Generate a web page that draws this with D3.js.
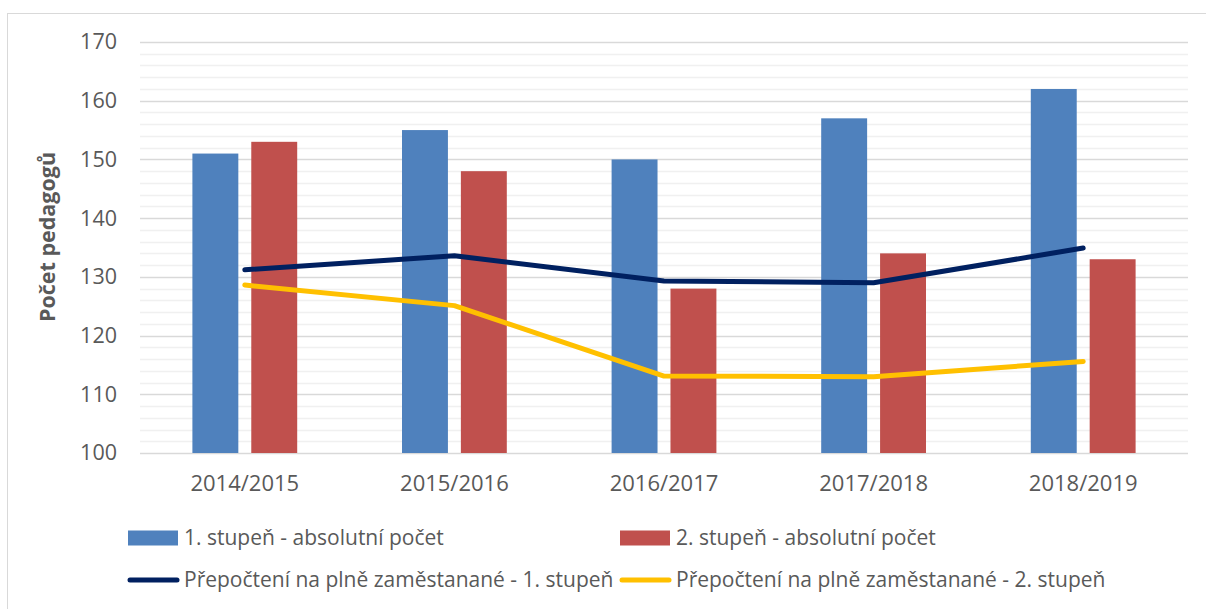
<!DOCTYPE html>
<html>
<head>
<meta charset="utf-8">
<script src="https://cdn.jsdelivr.net/npm/d3@7"></script>
<style>
  body { margin: 0; background: #fff; }
  svg { display: block; font-family: "Open Sans", sans-serif; }
</style>
</head>
<body>
<div id="chart"></div>
<script>
// chart data
var years = ['2014/2015', '2015/2016', '2016/2017', '2017/2018', '2018/2019'];
var abs1 = [151, 155, 150, 157, 162];
var abs2 = [153, 148, 128, 134, 133];
var fte1 = [131.2, 133.6, 129.3, 129.0, 134.9];
var fte2 = [128.6, 125.1, 113.1, 113.0, 115.6];
var yTicks = [100, 110, 120, 130, 140, 150, 160, 170];

var barSeries = [
  { name: '1. stupeň - absolutní počet', values: abs1, color: '#4F81BD' },
  { name: '2. stupeň - absolutní počet', values: abs2, color: '#C0504D' }
];
var lineSeries = [
  { name: 'Přepočtení na plně zaměstanané - 1. stupeň', values: fte1, color: '#002060' },
  { name: 'Přepočtení na plně zaměstanané - 2. stupeň', values: fte2, color: '#FFC000' }
];

var w = 1206;
var h = 609;

var svg = d3.select('#chart').append('svg')
  .attr('width', w)
  .attr('height', h);

// outer chart border (only top/left visible in the frame)
svg.append('rect')
  .attr('x', 7.5).attr('y', 13.5)
  .attr('width', 1220).attr('height', 620)
  .attr('fill', 'none')
  .attr('stroke', '#d9d9d9');

var x = d3.scaleBand()
  .domain(years)
  .range([140, 1188])
  .paddingInner(0.5)
  .paddingOuter(0.25);

var xInner = d3.scaleBand()
  .domain([0, 1])
  .range([0, x.bandwidth()])
  .paddingInner(0.22);

var y = d3.scaleLinear()
  .domain([100, 170])
  .range([453, 42]);

// minor gridlines every 2
svg.append('g')
  .selectAll('line')
  .data(d3.range(102, 170, 2).filter(function(v) { return v % 10 !== 0; }))
  .enter().append('line')
  .attr('x1', 140).attr('x2', 1188)
  .attr('y1', function(d) { return Math.round(y(d)) + 0.5; })
  .attr('y2', function(d) { return Math.round(y(d)) + 0.5; })
  .attr('stroke', '#f0f0f0')
  .attr('stroke-width', 1.3);

// major gridlines
svg.append('g')
  .selectAll('line')
  .data(yTicks)
  .enter().append('line')
  .attr('x1', 140).attr('x2', 1188)
  .attr('y1', function(d) { return Math.round(y(d)) + 0.5; })
  .attr('y2', function(d) { return Math.round(y(d)) + 0.5; })
  .attr('stroke', '#d9d9d9')
  .attr('stroke-width', 1.4);

// y axis labels
var yAxis = svg.append('g')
  .attr('transform', 'translate(117,0)')
  .call(d3.axisLeft(y).tickValues(yTicks).tickSize(0).tickPadding(0).tickFormat(d3.format('d')));
yAxis.select('.domain').remove();
yAxis.selectAll('text')
  .attr('fill', '#595959')
  .style('font-size', '21.5px')
  .style('font-family', '"Open Sans", sans-serif');

// x axis labels
var xAxis = svg.append('g')
  .attr('transform', 'translate(0,453)')
  .call(d3.axisBottom(x).tickSize(0).tickPadding(22));
xAxis.select('.domain').remove();
xAxis.selectAll('text')
  .attr('fill', '#595959')
  .style('font-size', '22px')
  .style('font-family', '"Open Sans", sans-serif');

// y axis title
svg.append('text')
  .attr('transform', 'translate(55,237) rotate(-90)')
  .attr('text-anchor', 'middle')
  .attr('fill', '#595959')
  .style('font-size', '21.5px')
  .style('font-weight', 'bold')
  .text('Počet pedagogů');

// bars
barSeries.forEach(function(s, si) {
  svg.append('g')
    .selectAll('rect')
    .data(s.values)
    .enter().append('rect')
    .attr('x', function(d, i) { return x(years[i]) + xInner(si); })
    .attr('width', xInner.bandwidth())
    .attr('y', function(d) { return y(d); })
    .attr('height', function(d) { return y(100) - y(d); })
    .attr('fill', s.color);
});

// lines
var line = d3.line()
  .x(function(d, i) { return x(years[i]) + x.bandwidth() / 2; })
  .y(function(d) { return y(d); });

lineSeries.forEach(function(s) {
  svg.append('path')
    .datum(s.values)
    .attr('d', line)
    .attr('fill', 'none')
    .attr('stroke', s.color)
    .attr('stroke-width', 5)
    .attr('stroke-linecap', 'round')
    .attr('stroke-linejoin', 'round');
});

// legend
var legend = svg.append('g');
var legendPos = [[128, 538], [620, 538], [128, 580], [620, 580]];

barSeries.forEach(function(s, i) {
  var p = legendPos[i];
  legend.append('rect')
    .attr('x', p[0]).attr('y', p[1] - 7.5)
    .attr('width', 50).attr('height', 15)
    .attr('fill', s.color);
  legend.append('text')
    .attr('x', p[0] + 56).attr('y', p[1])
    .attr('dy', '0.35em')
    .attr('fill', '#595959')
    .style('font-size', '21px')
    .text(s.name);
});

lineSeries.forEach(function(s, i) {
  var p = legendPos[i + 2];
  legend.append('line')
    .attr('x1', p[0] + 2).attr('x2', p[0] + 49)
    .attr('y1', p[1]).attr('y2', p[1])
    .attr('stroke', s.color)
    .attr('stroke-width', 5)
    .attr('stroke-linecap', 'round');
  legend.append('text')
    .attr('x', p[0] + 56).attr('y', p[1])
    .attr('dy', '0.35em')
    .attr('fill', '#595959')
    .style('font-size', '21px')
    .text(s.name);
});
</script>
</body>
</html>
